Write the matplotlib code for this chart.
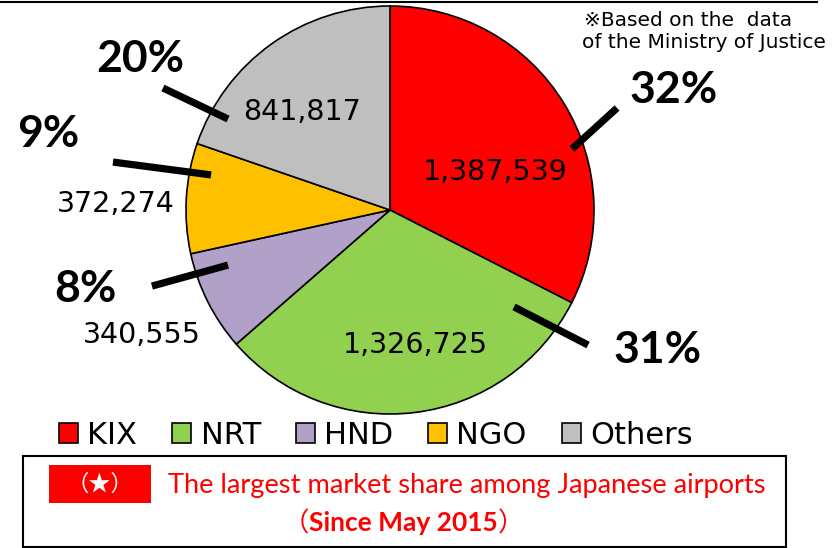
import matplotlib
matplotlib.use('Agg')
import matplotlib.pyplot as plt
from matplotlib.patches import Rectangle, Patch
from matplotlib.lines import Line2D

# data
airports = ['KIX', 'NRT', 'HND', 'NGO', 'Others']
passengers = [1387539, 1326725, 340555, 372274, 841817]
pct_labels = ['32%', '31%', '8%', '9%', '20%']
colors = ['#FF0000', '#92D050', '#B1A0C7', '#FFC000', '#BFBFBF']

# label layout in pie units (radius = 1)
pct_pos = [(1.392, 0.588), (1.309, -0.686), (-1.495, -0.387), (-1.676, 0.373), (-1.225, 0.740)]
val_pos = [(0.515, 0.186), (0.127, -0.662), (-1.216, -0.613), (-1.343, 0.029), (-0.431, 0.480)]
leader = [((0.892, 0.299), (1.113, 0.500)),
          ((0.608, -0.475), (0.971, -0.662)),
          ((-0.794, -0.270), (-1.167, -0.373)),
          ((-0.877, 0.172), (-1.358, 0.235)),
          ((-0.794, 0.446), (-1.113, 0.598))]

W, H = 836, 548
fig = plt.figure(figsize=(W / 100, H / 100), dpi=100)

# pie axes: centre (390, 210) px, radius 204 px
cx, cy, r = 390, 210, 204
ax = fig.add_axes([(cx - r) / W, 1 - (cy + r) / H, 2 * r / W, 2 * r / H])
wedges, _ = ax.pie(passengers, colors=colors, startangle=90, counterclock=False,
                   radius=1, wedgeprops=dict(edgecolor='black', linewidth=1.2))
ax.set_xlim(-1, 1)
ax.set_ylim(-1, 1)
ax.set_aspect('equal')
ax.axis('off')

for i in range(len(airports)):
    (x0, y0), (x1, y1) = leader[i]
    ax.plot([x0, x1], [y0, y1], color='black', lw=5.2, solid_capstyle='butt', clip_on=False)
    ax.text(pct_pos[i][0], pct_pos[i][1], pct_labels[i], ha='center', va='center',
            fontsize=32, fontweight='bold', family='Lato', clip_on=False)
    ax.text(val_pos[i][0], val_pos[i][1], f'{passengers[i]:,}', ha='center', va='center',
            fontsize=20.5, family='DejaVu Sans', clip_on=False)

# note at top right
fig.text(584 / W, 1 - 21 / H, '※Based on the  data', ha='left', va='center',
         fontsize=14.5, family=['DejaVu Sans', 'Noto Sans CJK JP'])
fig.text(582 / W, 1 - 42 / H, 'of the Ministry of Justice', ha='left', va='center',
         fontsize=14.5, family=['DejaVu Sans', 'Noto Sans CJK JP'])

# top rule
fig.add_artist(Line2D([0, 817 / W], [1 - 2 / H, 1 - 2 / H], color='black', lw=1.5,
                      transform=fig.transFigure))

# legend
handles = [Patch(facecolor=c, edgecolor='black', linewidth=1.2) for c in colors]
fig.legend(handles, airports, loc='center', bbox_to_anchor=(376 / W, 1 - 435 / H),
           ncol=5, frameon=False, fontsize=22, handlelength=0.62, handleheight=0.62,
           handletextpad=0.3, columnspacing=1.15, borderpad=0)

# bottom box
fig.add_artist(Rectangle((23 / W, 1 - 547 / H), (786 - 23) / W, (547 - 456) / H,
                         transform=fig.transFigure, facecolor='white', edgecolor='black', lw=1.5))
fig.add_artist(Rectangle((49 / W, 1 - 503 / H), (151 - 49) / W, (503 - 465) / H,
                         transform=fig.transFigure, facecolor='#FF0000', edgecolor='none'))
fig.text(100 / W, 1 - 484 / H, '（★）', ha='center', va='center', color='white',
         fontsize=16, family=['Noto Sans CJK JP'])
fig.text(168 / W, 1 - 493 / H, 'The largest market share among Japanese airports',
         ha='left', va='baseline', color='#FF0000', fontsize=19.6, family='Lato')

# "(Since May 2015)" with regular full-width brackets and bold text
renderer = fig.canvas.get_renderer()
mid = fig.text(403 / W, 1 - 531 / H, 'Since May 2015', ha='center', va='baseline',
               color='#FF0000', fontsize=19, fontweight='bold', family='Lato')
bb = mid.get_window_extent(renderer)
fig.text(bb.x0 / W, 1 - 531 / H, '（', ha='right', va='baseline', color='#FF0000',
         fontsize=19, family=['Noto Sans CJK JP'])
fig.text(bb.x1 / W, 1 - 531 / H, '）', ha='left', va='baseline', color='#FF0000',
         fontsize=19, family=['Noto Sans CJK JP'])

fig.savefig('out.png', dpi=100)
